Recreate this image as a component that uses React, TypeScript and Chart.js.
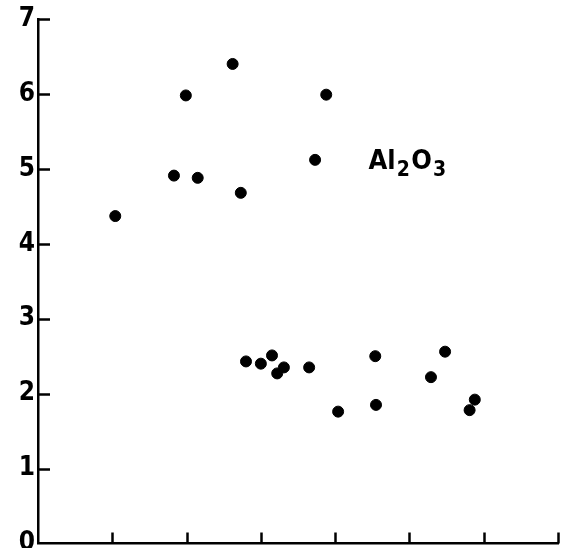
import React, { useEffect, useRef } from "react";
import { Chart, registerables } from "chart.js";

Chart.register(...registerables);

const xValues = [1.04, 1.83, 1.99, 2.15, 2.62, 2.73, 3.88, 3.73, 2.80, 3.00, 3.15, 3.22, 3.31, 3.65, 4.04, 4.54, 4.55, 5.29, 5.48, 5.81, 5.88];
const yValues = [4.37, 4.91, 5.98, 4.88, 6.40, 4.68, 5.99, 5.12, 2.43, 2.40, 2.51, 2.27, 2.35, 2.35, 1.76, 2.50, 1.85, 2.22, 2.56, 1.78, 1.92];
const yTickValues = [0, 1, 2, 3, 4, 5, 6, 7];
const xTickValues = [0, 1, 2, 3, 4, 5, 6, 7];
const labelMain = ["Al", "O"];
const labelSubs = ["2", "3"];
const labelPos = { x: 4.45, y: 5.0 };

const FONT = "'Liberation Sans Narrow', 'DejaVu Sans Condensed', sans-serif";

export default function App() {
  const ref = useRef<HTMLCanvasElement | null>(null);

  useEffect(() => {
    if (!ref.current) return;
    const data = xValues.map((x, i) => ({ x, y: yValues[i] }));

    const extras = {
      id: "extras",
      afterDraw(chart: any) {
        const ctx = chart.ctx;
        const xs = chart.scales.x;
        const ys = chart.scales.y;
        const area = chart.chartArea;
        ctx.save();
        ctx.strokeStyle = "#000";
        ctx.lineWidth = 2.5;
        ctx.lineCap = "butt";
        yTickValues.forEach((v) => {
          if (v === 0) return;
          const py = Math.round(ys.getPixelForValue(v)) + 0.5;
          ctx.beginPath();
          ctx.moveTo(area.left, py);
          ctx.lineTo(area.left + 12, py);
          ctx.stroke();
        });
        xTickValues.forEach((v) => {
          if (v === 0) return;
          const px = Math.round(xs.getPixelForValue(v)) + 0.5;
          ctx.beginPath();
          ctx.moveTo(px, area.bottom);
          ctx.lineTo(px, area.bottom - 11);
          ctx.stroke();
        });
        // label
        ctx.fillStyle = "#000";
        ctx.textBaseline = "alphabetic";
        ctx.textAlign = "left";
        let px = xs.getPixelForValue(labelPos.x);
        const py = ys.getPixelForValue(labelPos.y);
        for (let i = 0; i < labelMain.length; i++) {
          ctx.font = `bold 27px ${FONT}`;
          ctx.fillText(labelMain[i], px, py);
          px += ctx.measureText(labelMain[i]).width + 1;
          ctx.font = `bold 21px ${FONT}`;
          ctx.fillText(labelSubs[i], px, py + 7);
          px += ctx.measureText(labelSubs[i]).width + 1.5;
        }
        ctx.restore();
      },
    };

    const chart = new Chart(ref.current, {
      type: "scatter",
      data: {
        datasets: [
          {
            data,
            backgroundColor: "#000",
            borderColor: "#000",
            pointRadius: 5.5,
            pointHoverRadius: 5.5,
          },
        ],
      },
      options: {
        animation: false,
        responsive: false,
        maintainAspectRatio: false,
        layout: { padding: { top: 19, right: 18, bottom: 0, left: 0 } },
        plugins: { legend: { display: false }, tooltip: { enabled: false } },
        scales: {
          x: {
            type: "linear",
            min: 0,
            max: 7,
            ticks: { display: false, stepSize: 1 },
            grid: { display: false, drawTicks: false },
            border: { display: true, color: "#000", width: 2.5 },
            afterFit(scale: any) {
              scale.height = 0;
              scale.paddingLeft = 0;
              scale.paddingRight = 0;
              scale.paddingTop = 0;
              scale.paddingBottom = 0;
            },
          },
          y: {
            type: "linear",
            min: 0,
            max: 7,
            ticks: {
              stepSize: 1,
              color: "#000",
              padding: 3,
              font: { family: FONT, size: 26, weight: "bold" },
            },
            grid: { display: false, drawTicks: false },
            border: { display: true, color: "#000", width: 2.5 },
            afterFit(scale: any) {
              scale.width = 38;
              scale.paddingTop = 0;
              scale.paddingBottom = 0;
            },
          },
        },
      },
      plugins: [extras],
    });
    return () => chart.destroy();
  }, []);

  return (
    <div style={{ position: "fixed", left: 0, top: 0, width: 576, height: 548, overflow: "hidden", background: "#fff" }}>
      <canvas ref={ref} width={576} height={550} style={{ display: "block" }} />
    </div>
  );
}
